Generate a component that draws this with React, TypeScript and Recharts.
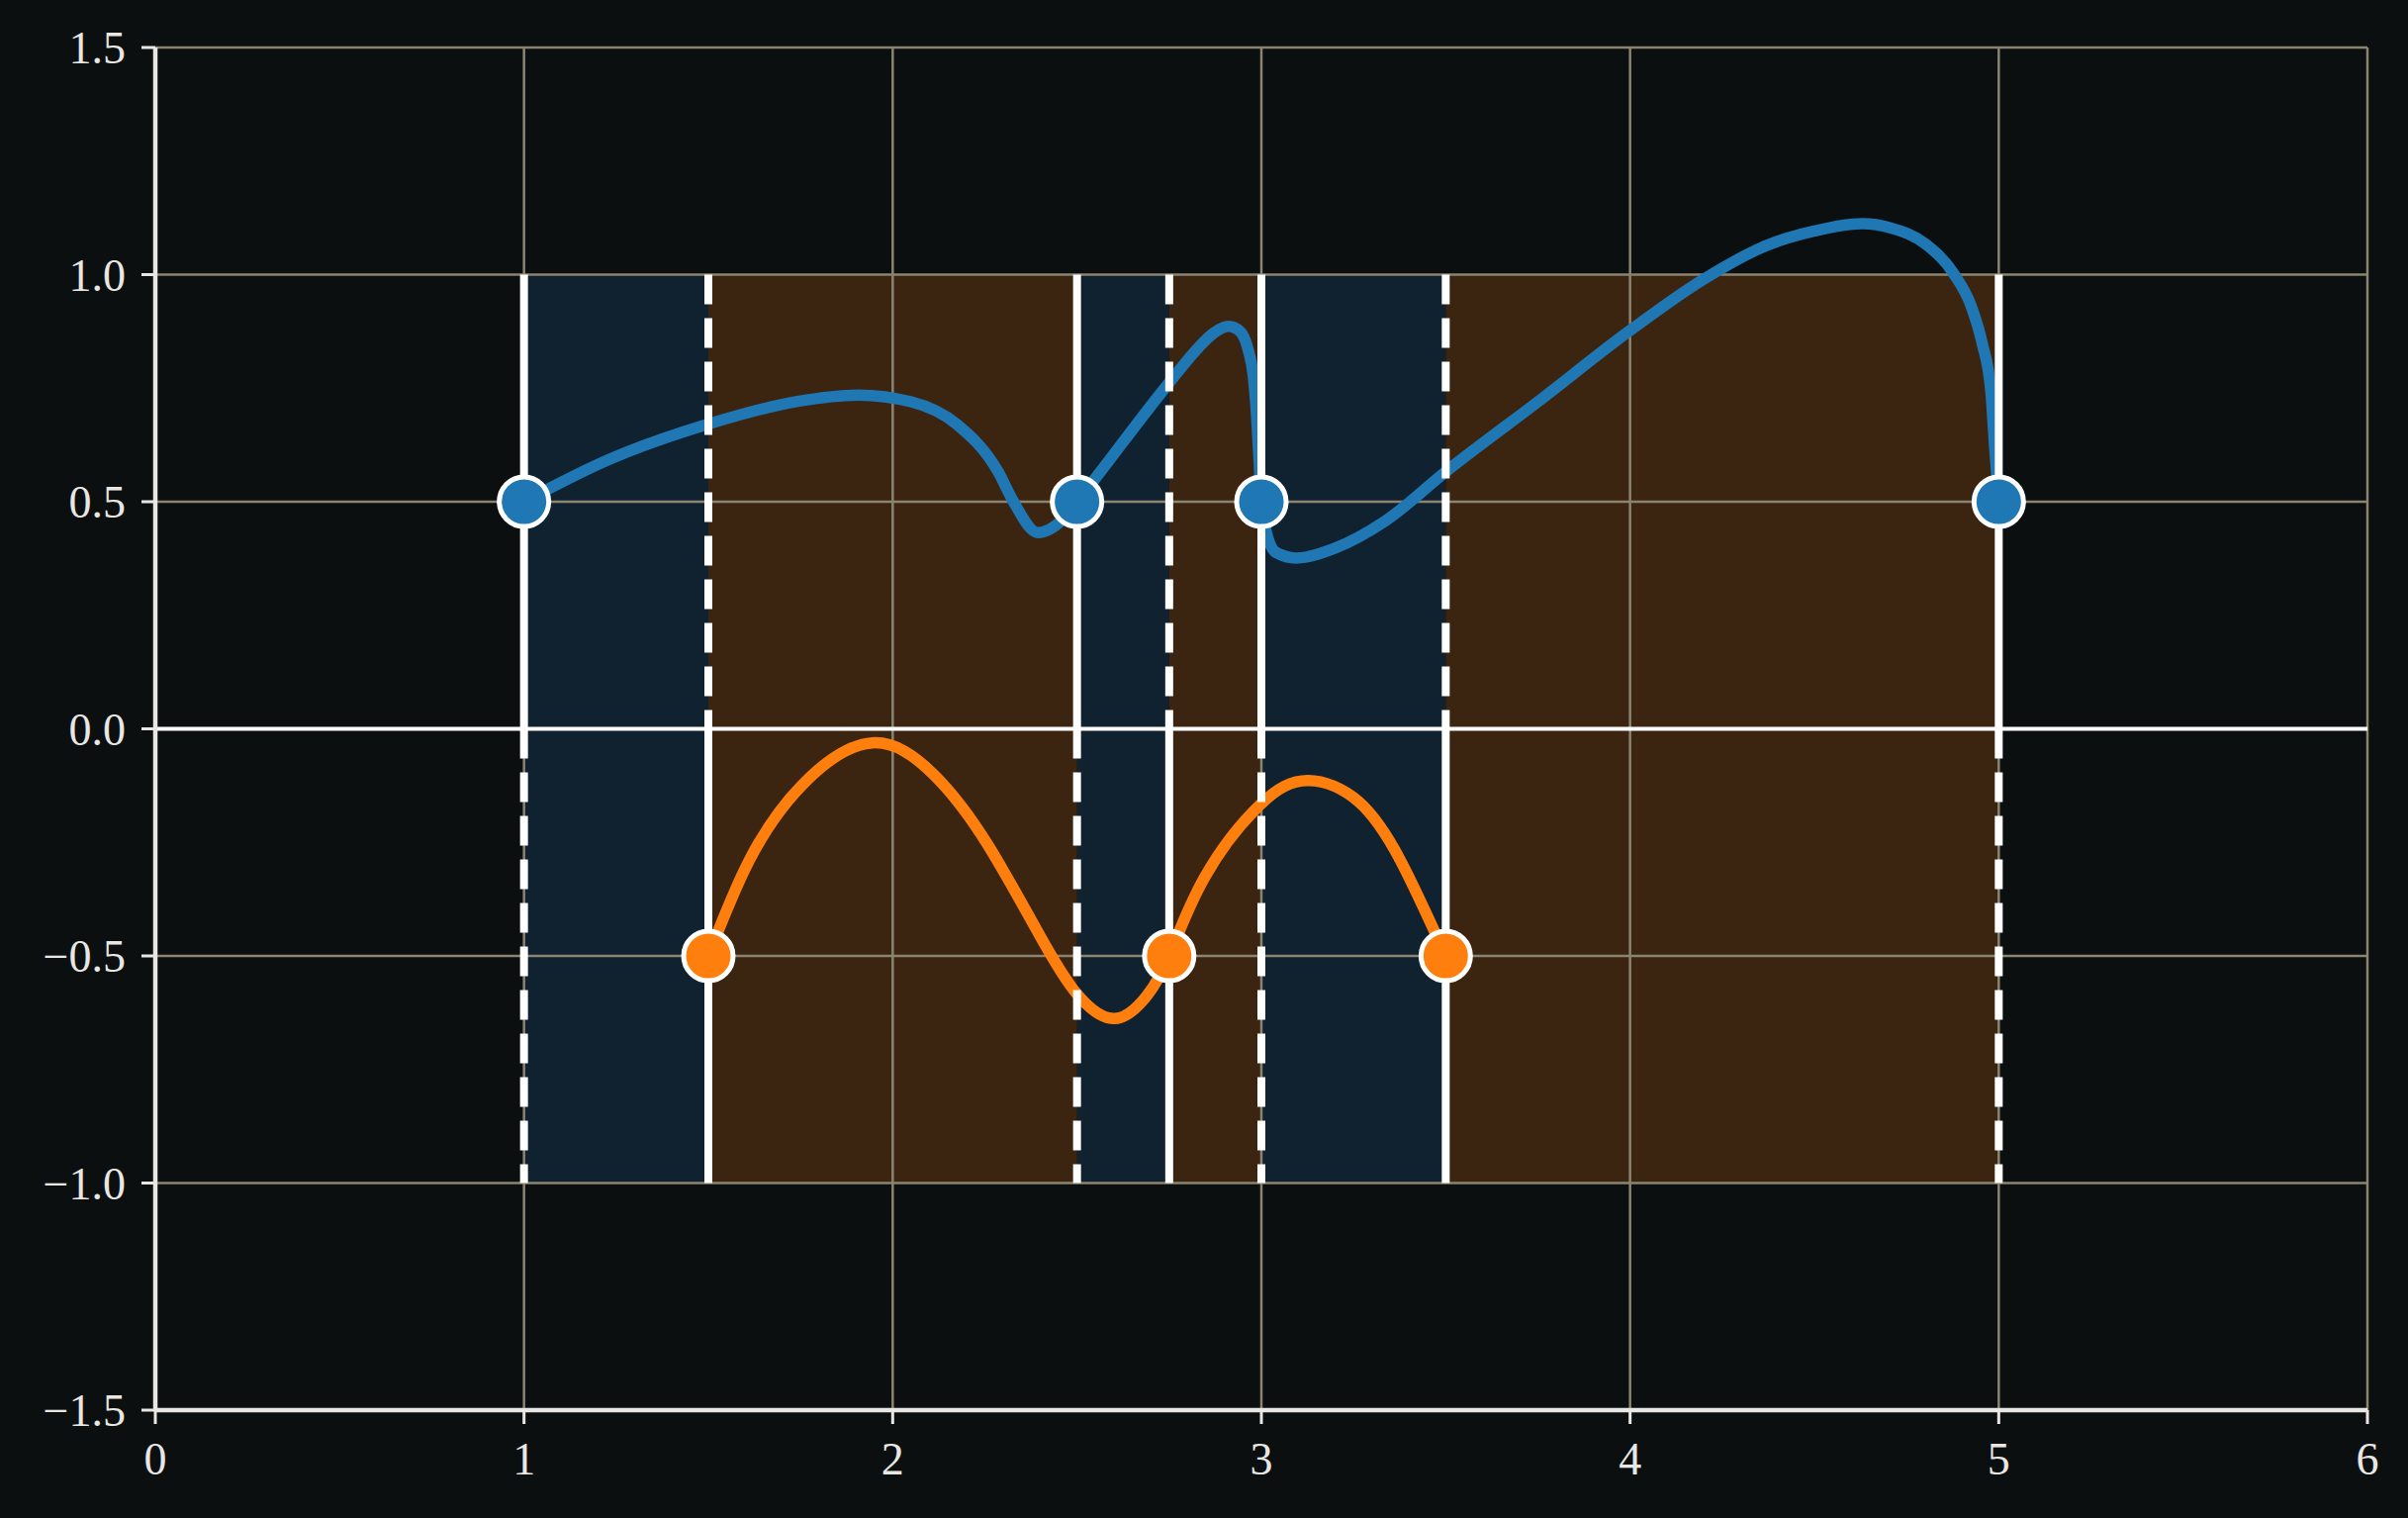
import React from 'react';
import {
  ComposedChart,
  Line,
  XAxis,
  YAxis,
  CartesianGrid,
  ReferenceArea,
  ReferenceLine,
} from 'recharts';

// ---- data ----
const xTicks = [0, 1, 2, 3, 4, 5, 6];
const yTicks = [-1.5, -1, -0.5, 0, 0.5, 1, 1.5];

const blueCurveX = [
  1, 1.228, 1.5, 1.742, 1.906, 2.05, 2.173, 2.286, 2.327, 2.394, 2.461, 2.5,
  2.75, 2.83, 2.87, 2.911, 2.942, 2.964, 2.978, 2.987, 2.994, 3.0,
  3.013, 3.04, 3.094, 3.2, 3.335, 3.5, 3.75, 4.0, 4.2, 4.37, 4.5, 4.629, 4.706, 4.802, 4.878, 4.926, 4.955, 4.979, 4.988, 5.0,
];
const blueCurveY = [
  0.5, 0.592, 0.671, 0.721, 0.735, 0.72, 0.671, 0.566, 0.501, 0.432, 0.461, 0.5,
  0.762, 0.84, 0.871, 0.886, 0.875, 0.835, 0.777, 0.69, 0.588, 0.5,
  0.435, 0.388, 0.376, 0.398, 0.457, 0.566, 0.72, 0.877, 0.99, 1.064, 1.096, 1.112, 1.103, 1.067, 1.002, 0.929, 0.849, 0.74, 0.631, 0.5,
];

const orangeCurveX = [1.5, 1.61, 1.754, 1.944, 2.113, 2.257, 2.401, 2.501, 2.602, 2.688, 2.75, 2.846, 2.997, 3.127, 3.263, 3.378, 3.5];
const orangeCurveY = [-0.5, -0.291, -0.124, -0.031, -0.102, -0.254, -0.458, -0.585, -0.638, -0.589, -0.5, -0.327, -0.167, -0.114, -0.16, -0.291, -0.5];

const bluePointX = [1, 2.5, 3, 5];
const bluePointY = [0.5, 0.5, 0.5, 0.5];
const orangePointX = [1.5, 2.75, 3.5];
const orangePointY = [-0.5, -0.5, -0.5];

const blueSpanStart = [1, 2.5, 3];
const blueSpanEnd = [1.5, 2.75, 3.5];
const orangeSpanStart = [1.5, 2.75, 3.5];
const orangeSpanEnd = [2.5, 3, 5];
const spanLow = -1;
const spanHigh = 1;

// ---- styles ----
const BG = '#0b0f10';
const GRID = '#8a8471';
const SPINE = '#e9e7e3';
const BLUE = '#1f77b4';
const ORANGE = '#ff7f0e';
const BLUE_SPAN = '#10212f';
const ORANGE_SPAN = '#3c2510';
const FONT = '"Liberation Serif", "DejaVu Serif", serif';

const zip = (xs: number[], ys: number[]) => xs.map((x, i) => ({ x, y: ys[i] }));

const blueCurve = zip(blueCurveX, blueCurveY);
const orangeCurve = zip(orangeCurveX, orangeCurveY);
const bluePoints = zip(bluePointX, bluePointY);
const orangePoints = zip(orangePointX, orangePointY);

const fmtY = (v: number) => (v < 0 ? '\u2212' : '') + Math.abs(v).toFixed(1);
const fmtX = (v: number) => String(v);

const DASH = '30 14';
const VLW = 8;
const CURVE_W = 11.5;

export default function App() {
  const vlines: React.ReactNode[] = [];
  bluePointX.forEach((x, i) => {
    vlines.push(
      <ReferenceLine
        key={`bu${i}`}
        segment={[{ x, y: spanHigh }, { x, y: 0 }]}
        stroke="#ffffff"
        strokeWidth={VLW}
        zIndex={450}
        ifOverflow="visible"
      />
    );
    vlines.push(
      <ReferenceLine
        key={`bl${i}`}
        segment={[{ x, y: 0 }, { x, y: spanLow }]}
        stroke="#ffffff"
        strokeWidth={VLW}
        strokeDasharray={DASH}
        zIndex={450}
        ifOverflow="visible"
      />
    );
  });
  orangePointX.forEach((x, i) => {
    vlines.push(
      <ReferenceLine
        key={`ou${i}`}
        segment={[{ x, y: spanHigh }, { x, y: 0 }]}
        stroke="#ffffff"
        strokeWidth={VLW}
        strokeDasharray={DASH}
        zIndex={450}
        ifOverflow="visible"
      />
    );
    vlines.push(
      <ReferenceLine
        key={`ol${i}`}
        segment={[{ x, y: 0 }, { x, y: spanLow }]}
        stroke="#ffffff"
        strokeWidth={VLW}
        zIndex={450}
        ifOverflow="visible"
      />
    );
  });

  return (
    <div
      style={{
        position: 'fixed',
        left: 0,
        top: 0,
        width: 2434,
        height: 1534,
        background: BG,
      }}
    >
      <ComposedChart
        width={2434}
        height={1534}
        margin={{ top: 48, right: 41, bottom: 0, left: 0 }}
        style={{ background: BG }}
      >
        {blueSpanStart.map((s, i) => (
          <ReferenceArea
            key={`bs${i}`}
            x1={s}
            x2={blueSpanEnd[i]}
            y1={spanLow}
            y2={spanHigh}
            fill={BLUE_SPAN}
            fillOpacity={1}
            stroke="none"
            zIndex={-150}
            ifOverflow="visible"
          />
        ))}
        {orangeSpanStart.map((s, i) => (
          <ReferenceArea
            key={`os${i}`}
            x1={s}
            x2={orangeSpanEnd[i]}
            y1={spanLow}
            y2={spanHigh}
            fill={ORANGE_SPAN}
            fillOpacity={1}
            stroke="none"
            zIndex={-150}
            ifOverflow="visible"
          />
        ))}
        <CartesianGrid stroke={GRID} strokeWidth={2.5} zIndex={-100} />
        <XAxis
          dataKey="x"
          type="number"
          domain={[0, 6]}
          ticks={xTicks}
          tickFormatter={fmtX}
          allowDataOverflow
          height={109}
          axisLine={{ stroke: SPINE, strokeWidth: 4.5 }}
          tickLine={{ stroke: SPINE, strokeWidth: 3 }}
          tickSize={14}
          tickMargin={18}
          tick={{ fill: SPINE, fontSize: 46, fontFamily: FONT }}
          interval={0}
        />
        <YAxis
          dataKey="y"
          type="number"
          domain={[-1.5, 1.5]}
          ticks={yTicks}
          tickFormatter={fmtY}
          allowDataOverflow
          width={157}
          axisLine={{ stroke: SPINE, strokeWidth: 4.5 }}
          tickLine={{ stroke: SPINE, strokeWidth: 3 }}
          tickSize={14}
          tickMargin={16}
          tick={{ fill: SPINE, fontSize: 46, fontFamily: FONT }}
          interval={0}
        />
        <ReferenceLine y={0} stroke="#ffffff" strokeWidth={4} zIndex={300} />
        <Line
          data={blueCurve}
          dataKey="y"
          type="monotone"
          stroke={BLUE}
          strokeWidth={CURVE_W}
          strokeLinejoin="round"
          dot={false}
          activeDot={false}
          isAnimationActive={false}
          zIndex={400}
        />
        <Line
          data={orangeCurve}
          dataKey="y"
          type="natural"
          stroke={ORANGE}
          strokeWidth={CURVE_W}
          strokeLinejoin="round"
          dot={false}
          activeDot={false}
          isAnimationActive={false}
          zIndex={400}
        />
        {vlines}
        <Line
          data={bluePoints}
          dataKey="y"
          stroke="none"
          strokeWidth={0}
          dot={{ r: 25, fill: BLUE, stroke: '#ffffff', strokeWidth: 5 }}
          activeDot={false}
          isAnimationActive={false}
          zIndex={700}
        />
        <Line
          data={orangePoints}
          dataKey="y"
          stroke="none"
          strokeWidth={0}
          dot={{ r: 25, fill: ORANGE, stroke: '#ffffff', strokeWidth: 5 }}
          activeDot={false}
          isAnimationActive={false}
          zIndex={700}
        />
      </ComposedChart>
    </div>
  );
}
